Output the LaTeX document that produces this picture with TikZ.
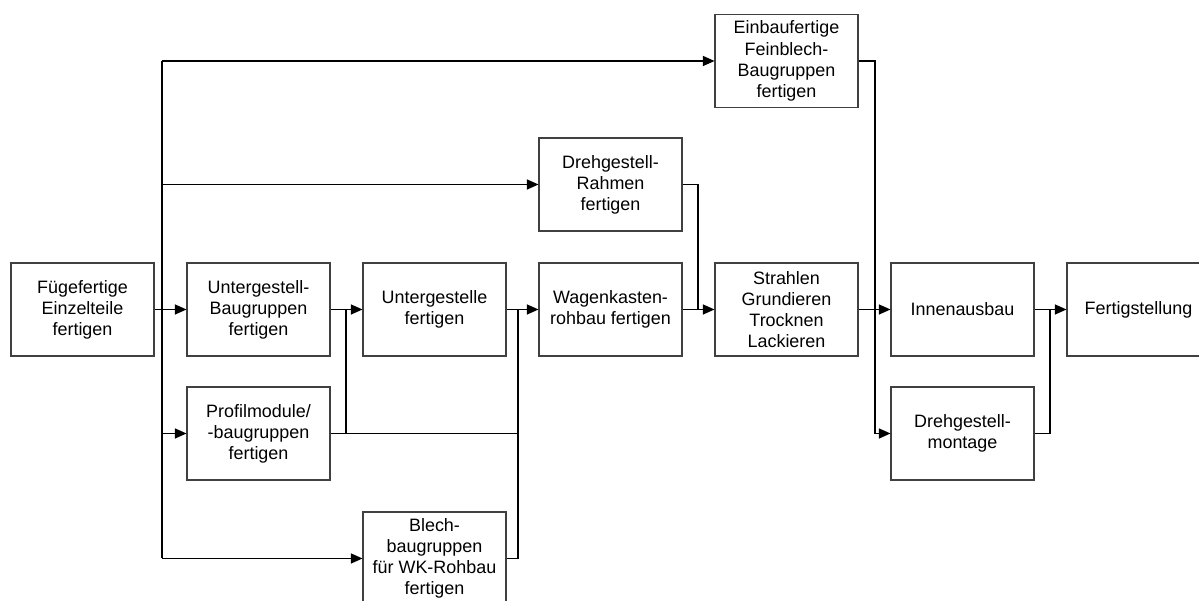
\documentclass[tikz,border=0pt]{standalone}
\usepackage{fontspec}
\setmainfont{Liberation Sans}
\usetikzlibrary{arrows.meta,positioning,calc}

\begin{document}
\begin{tikzpicture}[
    prozess/.style={draw=black!75, line width=0.6pt, minimum width=2.86cm, minimum height=1.86cm,
      inner sep=0pt, align=center, font=\fontsize{10.2}{12}\selectfont},
    pfeil/.style={-{Triangle[length=2.3mm, width=2mm]}},
    linie/.style={line width=0.6pt}
  ]
  \useasboundingbox (0,0) rectangle (23.98,12.02);

  % Main row
  \node[prozess] (fuege) at (1.65,5.83) {Fügefertige\\Einzelteile\\fertigen};
  \node[prozess] (ugbg) at (5.17,5.83) {Untergestell-\\Baugruppen\\fertigen};
  \node[prozess] (ug) at (8.69,5.83) {Untergestelle\\fertigen};
  \node[prozess] (wk) at (12.21,5.83) {Wagenkasten-\\rohbau fertigen};
  \node[prozess] (strahl) at (15.73,5.83) {Strahlen\\Grundieren\\Trocknen\\Lackieren};
  \node[prozess] (innen) at (19.25,5.83) {Innenausbau};
  \node[prozess] (fertig) at (22.77,5.83) {Fertigstellung};

  % Upper and lower boxes
  \node[prozess] (einbau) at (15.73,10.8) {Einbaufertige\\Feinblech-\\Baugruppen\\fertigen};
  \node[prozess] (rahmen) at (12.21,8.33) {Drehgestell-\\Rahmen\\fertigen};
  \node[prozess] (profil) at (5.17,3.35) {Profilmodule/\\-baugruppen\\fertigen};
  \node[prozess] (blech) at (8.69,0.85) {Blech-\\baugruppen\\für WK-Rohbau\\fertigen};
  \node[prozess] (dgm) at (19.25,3.35) {Drehgestell-\\montage};

  % Junctions
  \coordinate (j1) at (3.24,0);
  \coordinate (j2) at (6.92,0);
  \coordinate (j3) at (10.36,0);
  \coordinate (j4) at (13.96,0);
  \coordinate (j5) at (17.5,0);
  \coordinate (j6) at (21.0,0);

  % Distribution from Einzelteile
  \draw[linie, pfeil] (fuege.east) -- (ugbg.west);
  \draw[linie] (j1 |- einbau.west) -- (j1 |- blech.west);
  \draw[linie, pfeil] (j1 |- einbau.west) -- (einbau.west);
  \draw[linie, pfeil] (j1 |- rahmen.west) -- (rahmen.west);
  \draw[linie, pfeil] (j1 |- profil.west) -- (profil.west);
  \draw[linie, pfeil] (j1 |- blech.west) -- (blech.west);

  % Untergestell and Rohbau
  \draw[linie, pfeil] (ugbg.east) -- (ug.west);
  \draw[linie] (j2 |- ugbg.east) -- (j2 |- profil.east);
  \draw[linie] (profil.east) -- (j3 |- profil.east);
  \draw[linie, pfeil] (ug.east) -- (wk.west);
  \draw[linie] (blech.east) -- (j3 |- blech.east) -- (j3 |- wk.west);

  % Oberflaeche
  \draw[linie, pfeil] (wk.east) -- (strahl.west);
  \draw[linie] (rahmen.east) -- (j4 |- rahmen.east) -- (j4 |- strahl.west);

  % Ausbau and Montage
  \draw[linie, pfeil] (strahl.east) -- (innen.west);
  \draw[linie, pfeil] (einbau.east) -- (j5 |- einbau.east) -- (j5 |- dgm.west) -- (dgm.west);
  \draw[linie, pfeil] (innen.east) -- (fertig.west);
  \draw[linie] (dgm.east) -- (j6 |- dgm.east) -- (j6 |- innen.east);
\end{tikzpicture}
\end{document}
